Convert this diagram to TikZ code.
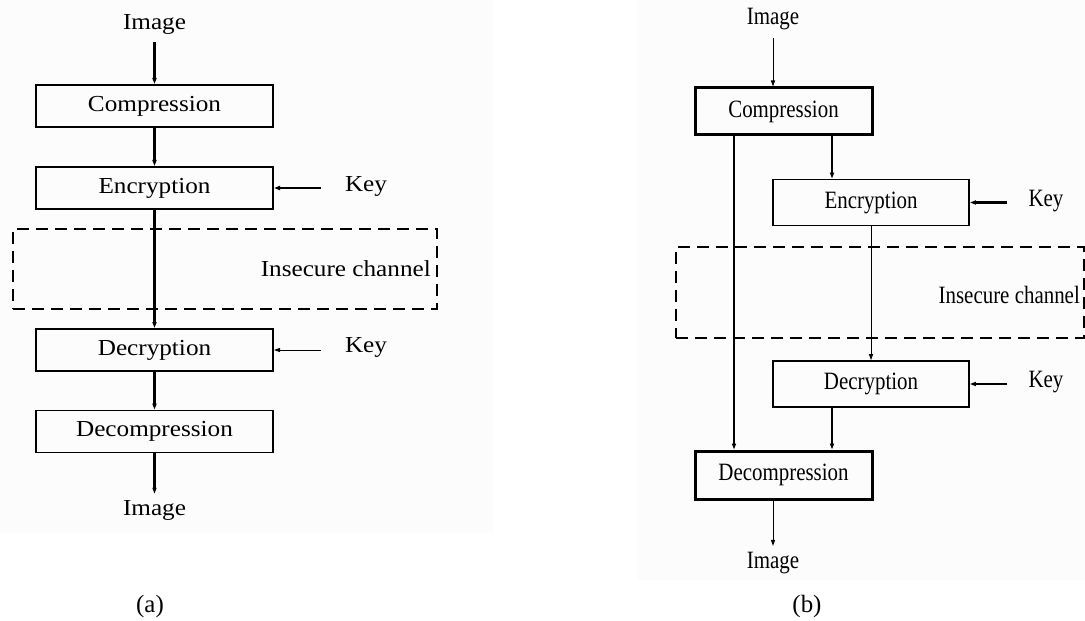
\documentclass[tikz,border=0pt]{standalone}
\usepackage{fontspec}
\setmainfont{Liberation Serif}
\newfontfamily\fontA[FakeStretch=1.1]{Liberation Serif}
\newfontfamily\fontB[FakeStretch=0.84]{Liberation Serif}
\usetikzlibrary{arrows.meta}
\definecolor{panelbg}{RGB}{252,252,252}
\tikzset{
  arr/.style={-{Triangle[length=6bp,width=4bp]}},
  txtA/.style={inner sep=0pt, font=\fontA\fontsize{23}{27}\selectfont},
  txtB/.style={inner sep=0pt, font=\fontB\fontsize{25}{29}\selectfont},
  boxA/.style={draw, line width=2bp, minimum width=237bp, minimum height=42bp, inner sep=0pt, txtA},
  boxB/.style={draw, minimum width=196bp, minimum height=46bp, inner sep=0pt, txtB},
  chan/.style={draw, dashed, dash pattern=on 12bp off 7bp, line width=2.4bp, inner sep=0pt},
  thickln/.style={line width=2.4bp},
  thinln/.style={line width=1bp},
}
\begin{document}
\begin{tikzpicture}[x=1bp, y=-1bp]
\useasboundingbox (0,0) rectangle (1085,621);
% light panel backgrounds
\fill[panelbg] (0,0) rectangle (493,533);
\fill[panelbg] (638,0) rectangle (1085,580);

% ---------- (a) sequential scheme ----------
\node[txtA] (imgA1) at (154.5,24) {Image};
\node[boxA] (compA) at (154.5,106) {Compression};
\node[boxA] (encA) at (154.5,188) {Encryption};
\node[chan, minimum width=424bp, minimum height=80bp] (chanA) at (225,269) {};
\node[txtA, anchor=east] (chanAlbl) at (431,269) {Insecure channel};
\node[boxA] (decA) at (154.5,350) {Decryption};
\node[boxA, line width=1.7bp] (decompA) at (154.5,431.5) {Decompression};
\node[txtA] (imgA2) at (154.5,510) {Image};
\node[txtA] (keyA1) at (366,186) {Key};
\node[txtA] (keyA2) at (366,347) {Key};
\node[font=\fontsize{25}{29}\selectfont, inner sep=0pt] (capA) at (150,607) {(a)};

\draw[arr, thickln, shorten <=8bp] (imgA1.south) -- (compA.north);
\draw[arr, thickln] (compA.south) -- (encA.north);
\draw[arr, thickln] (encA.south) -- (decA.north);
\draw[arr, thickln] (decA.south) -- (decompA.north);
\draw[arr, thickln, shorten >=6bp] (decompA.south) -- (imgA2.north);
\draw[arr, line width=1.8bp, shorten <=24bp] (keyA1.west |- encA.east) -- (encA.east);
\draw[arr, thinln, shorten <=24bp] (keyA2.west |- decA.east) -- (decA.east);

% ---------- (b) parallel scheme ----------
\coordinate (colL) at (734,0);
\coordinate (colM) at (832,0);
\coordinate (colIn) at (773,0);

\node[txtB] (imgB1) at (773,19) {Image};
\node[boxB, line width=3bp, minimum width=177bp, minimum height=47bp] (compB) at (783.5,111.5) {Compression};
\node[boxB, line width=1.8bp] (encB) at (871,202.5) {Encryption};
\node[chan, minimum width=408bp, minimum height=91bp] (chanB) at (880,292.5) {};
\node[txtB, anchor=east] (chanBlbl) at (1080,295) {Insecure channel};
\node[boxB, line width=1.6bp] (decB) at (871,384) {Decryption};
\node[boxB, line width=3bp, minimum width=177bp, minimum height=48bp] (decompB) at (783.5,475) {Decompression};
\node[txtB] (imgB2) at (773,563) {Image};
\node[txtB] (keyB1) at (1046,201) {Key};
\node[txtB] (keyB2) at (1046,382) {Key};
\node[font=\fontsize{25}{29}\selectfont, inner sep=0pt] (capB) at (807,607) {(b)};

\draw[arr, thinln, shorten <=8bp] (imgB1.south -| colIn) -- (compB.north -| colIn);
\draw[arr, thickln] (compB.south -| colL) -- (decompB.north -| colL);
\draw[arr, thickln] (compB.south -| colM) -- (encB.north -| colM);
\draw[arr, thinln] (encB.south) -- (decB.north);
\draw[arr, thickln] (decB.south -| colM) -- (decompB.north -| colM);
\draw[arr, thinln, shorten >=6bp] (decompB.south -| colIn) -- (imgB2.north -| colIn);
\draw[arr, thickln, shorten <=21bp] (keyB1.west |- encB.east) -- (encB.east);
\draw[arr, thickln, shorten <=21bp] (keyB2.west |- decB.east) -- (decB.east);
\end{tikzpicture}
\end{document}
